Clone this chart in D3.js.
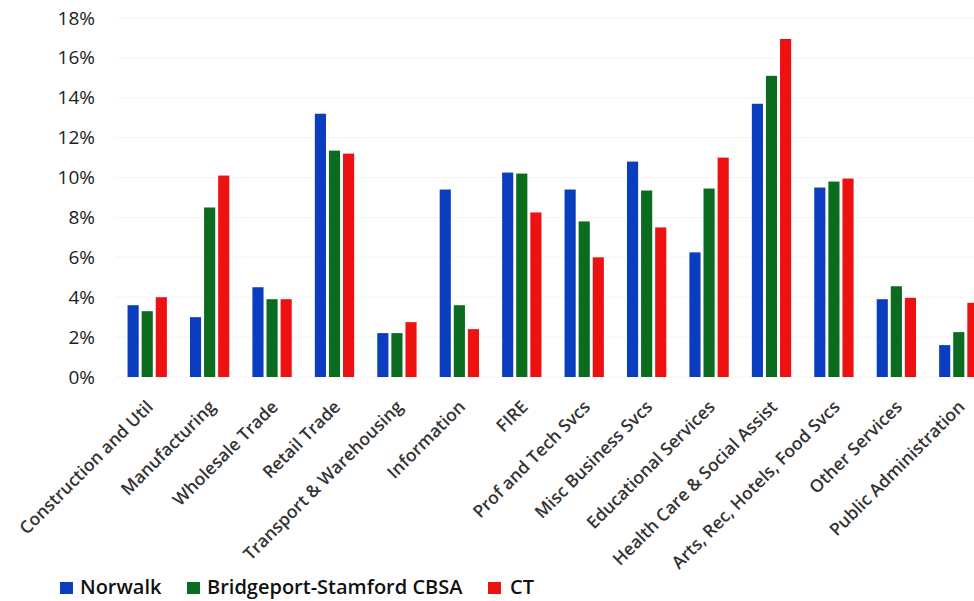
<!DOCTYPE html>
<html><head><meta charset="utf-8">
<script src="https://cdn.jsdelivr.net/npm/d3@7"></script>
<style>body{margin:0;background:#fff;} svg{display:block;}</style>
</head><body>
<svg id="c" width="974" height="601"></svg>
<script>
const categories = ["Construction and Util","Manufacturing","Wholesale Trade","Retail Trade","Transport & Warehousing","Information","FIRE","Prof and Tech Svcs","Misc Business Svcs","Educational Services","Health Care & Social Assist","Arts, Rec, Hotels, Food Svcs","Other Services","Public Administration"];
const seriesNames = ["Norwalk","Bridgeport-Stamford CBSA","CT"];
const norwalk = [3.6,3.0,4.5,13.2,2.2,9.4,10.25,9.4,10.8,6.25,13.7,9.5,3.9,1.6];
const bridgeport = [3.3,8.5,3.9,11.35,2.2,3.6,10.2,7.8,9.35,9.45,15.1,9.8,4.55,2.25];
const ct = [4.0,10.1,3.9,11.2,2.75,2.4,8.25,6.0,7.5,11.0,16.95,9.95,3.97,3.72];
const yTicks = [0,2,4,6,8,10,12,14,16,18];
const colors = ["#0a3ebf","#0b6b1f","#ee1111"];

const seriesValues = [norwalk, bridgeport, ct];
const svg = d3.select("#c");
const x = d3.scaleBand().domain(categories).range([116, 990]).paddingInner(0.37).paddingOuter(0.185);
const xs = d3.scaleBand().domain(seriesNames).range([0, x.bandwidth()]).paddingInner(0.21);
const y = d3.scaleLinear().domain([0,18]).range([377, 18]);

// faint gridlines
svg.append("g").selectAll("line").data(yTicks).join("line")
  .attr("x1",116).attr("x2",990).attr("y1",d=>y(d)).attr("y2",d=>y(d))
  .attr("stroke","#f4f4f4").attr("stroke-width",1);

// y axis labels
const yAxis = d3.axisLeft(y).tickValues(yTicks).tickFormat(d=>d+"%").tickSize(0).tickPadding(0);
const ya = svg.append("g").attr("transform","translate(95,0)").call(yAxis);
ya.select(".domain").remove();
ya.selectAll("text").attr("font-family","'Open Sans', sans-serif").attr("font-size",19).attr("fill","#222");

// bars
const groups = svg.append("g").selectAll("g").data(categories).join("g")
  .attr("transform", d=>`translate(${x(d)},0)`);
groups.selectAll("rect").data((d,i)=>seriesNames.map((s,j)=>({s, v: seriesValues[j][i], j})))
  .join("rect")
  .attr("x", d=>xs(d.s)).attr("width", xs.bandwidth())
  .attr("y", d=>y(d.v)).attr("height", d=>y(0)-y(d.v))
  .attr("fill", d=>colors[d.j]);

// x labels
const xAxis = d3.axisBottom(x).tickSize(0).tickPadding(0);
const xa = svg.append("g").attr("transform","translate(0,377)").call(xAxis);
xa.select(".domain").remove();
xa.selectAll("text")
  .attr("font-family","'Open Sans', sans-serif").attr("font-size",17.5).attr("font-weight",600).attr("fill","#333")
  .attr("text-anchor","end")
  .attr("dy",0).attr("y",0)
  .attr("transform","translate(7,31) rotate(-45)");

// legend
const legend = svg.append("g").attr("transform","translate(0,594)");
const lx = [60, 187, 488];
const tx = [80, 207, 510];
seriesNames.forEach((s,i)=>{
  legend.append("rect").attr("x",lx[i]).attr("y",-12).attr("width",13).attr("height",12).attr("fill",colors[i]);
  legend.append("text").attr("x",tx[i]).attr("y",0)
    .attr("font-family","'Open Sans', sans-serif").attr("font-size",20).attr("font-weight",600).attr("fill","#111")
    .text(s);
});
</script>
</body></html>
